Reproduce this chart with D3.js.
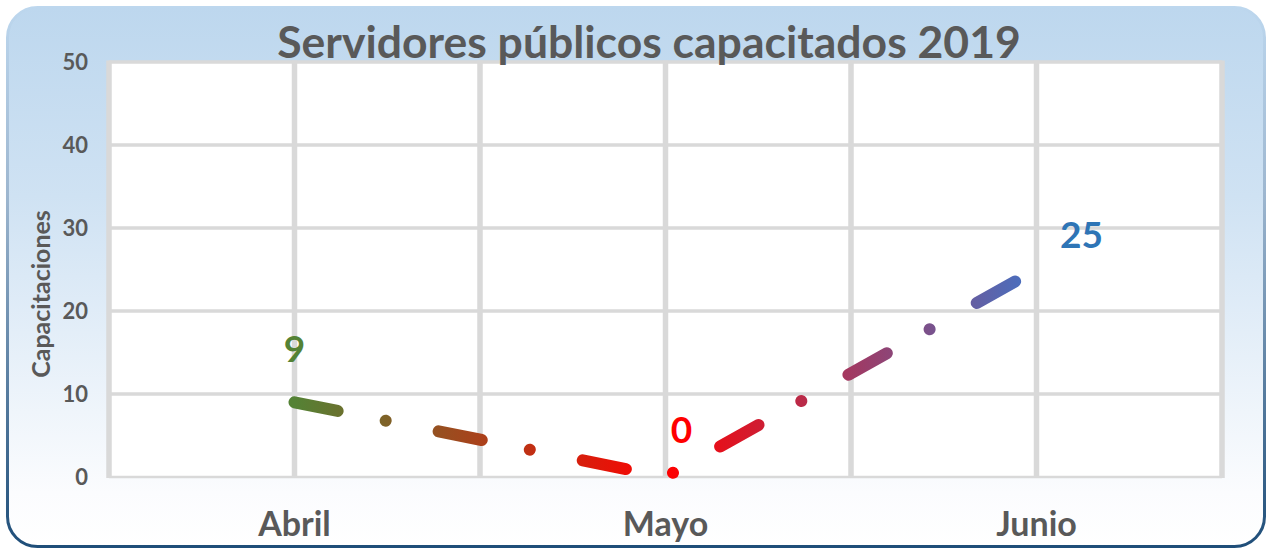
<!DOCTYPE html>
<html><head><meta charset="utf-8">
<script src="https://cdn.jsdelivr.net/npm/d3@7"></script>
<style>html,body{margin:0;padding:0;background:#fff;}svg{display:block;}</style>
</head><body>
<svg id="chart" width="1268" height="550"></svg>
<script>
const categories = ["Abril", "Mayo", "Junio"];
const values = [9, 0, 25];
const labelColors = ["#548235", "#ff0000", "#2e75b6"];
const yTicks = [0, 10, 20, 30, 40, 50];
const title = "Servidores públicos capacitados 2019";
const yTitle = "Capacitaciones";

(function(){
const svg = d3.select("#chart");
const font = "Lato, 'Open Sans', sans-serif";
const defs = svg.append("defs");

const bg = defs.append("linearGradient").attr("id","bg").attr("x1",0).attr("y1",0).attr("x2",0).attr("y2",1);
bg.append("stop").attr("offset","0").attr("stop-color","#bdd7ee");
bg.append("stop").attr("offset","0.35").attr("stop-color","#cfe2f3");
bg.append("stop").attr("offset","0.9").attr("stop-color","#fbfcfe");
bg.append("stop").attr("offset","1").attr("stop-color","#ffffff");
const bd = defs.append("linearGradient").attr("id","bd").attr("x1",0).attr("y1",0).attr("x2",0).attr("y2",1);
bd.append("stop").attr("offset","0").attr("stop-color","#bdd7ee");
bd.append("stop").attr("offset","0.35").attr("stop-color","#9db6cf");
bd.append("stop").attr("offset","1").attr("stop-color","#1f4e79");

svg.append("rect").attr("x",7.5).attr("y",7.5).attr("width",1257).attr("height",539)
  .attr("rx",30).attr("ry",30).attr("fill","url(#bg)").attr("stroke","url(#bd)").attr("stroke-width",3);

const pL = 109, pR = 1222, pT = 62, pB = 477;
const x = d3.scaleBand().domain(categories).range([pL, pR]).padding(0);
const y = d3.scaleLinear().domain([0, 50]).range([pB, pT]);
const bw = x.bandwidth();

svg.append("rect").attr("x",pL).attr("y",pT).attr("width",pR-pL).attr("height",pB-pT).attr("fill","#fff");

const grid = svg.append("g");
grid.selectAll("line.h").data(yTicks).join("line")
  .attr("x1",pL).attr("x2",pR).attr("y1",d=>y(d)).attr("y2",d=>y(d))
  .attr("stroke","#d9d9d9").attr("stroke-width",d=>d===0?2.5:3.5);
const vx = [];
categories.forEach(c => { vx.push(x(c)); vx.push(x(c)+bw/2); });
vx.push(pR);
grid.selectAll("line.v").data(vx).join("line")
  .attr("x1",d=>d).attr("x2",d=>d).attr("y1",pT-1.5).attr("y2",pB+1)
  .attr("stroke","#d9d9d9").attr("stroke-width",5.5);

svg.append("g").selectAll("text").data(yTicks).join("text")
  .attr("x",88).attr("y",d=>y(d)).attr("dy","0.35em").attr("text-anchor","end")
  .attr("font-family",font).attr("font-weight","bold").attr("font-size",22).attr("fill","#595959")
  .text(d=>d);

svg.append("g").selectAll("text").data(categories).join("text")
  .attr("x",d=>x(d)+bw/2).attr("y",536).attr("text-anchor","middle")
  .attr("font-family",font).attr("font-weight","bold").attr("font-size",34).attr("fill","#595959")
  .text(d=>d);

svg.append("text").attr("x",649).attr("y",58).attr("text-anchor","middle")
  .attr("font-family",font).attr("font-weight","bold").attr("font-size",44.5).attr("fill","#595959")
  .text(title);

svg.append("text").attr("transform","translate(50,294) rotate(-90)").attr("text-anchor","middle")
  .attr("font-family",font).attr("font-weight","bold").attr("font-size",25).attr("fill","#595959")
  .text(yTitle);

const pts = categories.map((c,i)=>[x(c)+bw/2, y(values[i])]);
const lg = defs.append("linearGradient").attr("id","lg").attr("gradientUnits","userSpaceOnUse")
  .attr("x1",pts[0][0]).attr("y1",0).attr("x2",pts[2][0]).attr("y2",0);
lg.append("stop").attr("offset","0").attr("stop-color","#548235");
lg.append("stop").attr("offset","0.5").attr("stop-color","#ff0000");
lg.append("stop").attr("offset","1").attr("stop-color","#4472c4");

const line = d3.line().x(d=>d[0]).y(d=>d[1]);
svg.append("path").attr("d",line(pts)).attr("fill","none").attr("stroke","url(#lg)")
  .attr("stroke-width",12).attr("stroke-linecap","round").attr("stroke-linejoin","round")
  .attr("stroke-dasharray","44 49 0.01 54");

const offs = [[0,-40],[16,-34],[45,-22]];
svg.append("g").selectAll("text").data(values).join("text")
  .attr("x",(d,i)=>pts[i][0]+offs[i][0]).attr("y",(d,i)=>pts[i][1]+offs[i][1])
  .attr("text-anchor","middle")
  .attr("font-family",font).attr("font-weight","bold").attr("font-size",37)
  .attr("fill",(d,i)=>labelColors[i]).text(d=>d);
})();
</script>
</body></html>
